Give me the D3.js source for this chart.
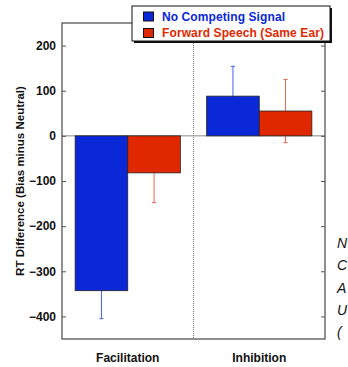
<!DOCTYPE html>
<html><head><meta charset="utf-8">
<script src="https://cdn.jsdelivr.net/npm/d3@7"></script>
<style>body{margin:0;background:#fff;overflow:hidden}svg{display:block}</style>
</head><body>
<script>
const categories = ["Facilitation", "Inhibition"];
const seriesNames = ["No Competing Signal", "Forward Speech (Same Ear)"];
const noCompeting = [-343, 88];
const noCompetingErr = [62, 66];
const forwardSpeech = [-82, 55];
const forwardSpeechErr = [66, 70];
const yTicks = [200, 100, 0, -100, -200, -300, -400];
const sideLetters = ["N", "C", "A", "U", "("];

const W = 348, H = 367;
const m = {left: 62, right: 325, top: 23, bottom: 339};
const svg = d3.select("body").append("svg").attr("width", W).attr("height", H);
const font = "'Liberation Sans', Arial, Helvetica, sans-serif";

const x = d3.scaleBand().domain(categories).range([m.left, m.right]).paddingInner(0).paddingOuter(0);
const x1 = d3.scaleBand().domain(seriesNames).range([0, x.bandwidth()]).paddingInner(0).paddingOuter(0.25);
const y = d3.scaleLinear().domain([-450, 250]).range([m.bottom, m.top]);

const colors = ["#0a28d8", "#e02800"];
const errColors = ["#4a60e8", "#f06050"];
const series = [
  {name: seriesNames[0], vals: noCompeting, errs: noCompetingErr},
  {name: seriesNames[1], vals: forwardSpeech, errs: forwardSpeechErr}
];

// zero line
svg.append("line").attr("x1", m.left).attr("x2", m.right).attr("y1", y(0)).attr("y2", y(0))
  .attr("stroke", "#888").attr("stroke-width", 1);
// divider
svg.append("line").attr("x1", x("Inhibition")).attr("x2", x("Inhibition"))
  .attr("y1", m.top).attr("y2", m.bottom).attr("stroke", "#777").attr("stroke-width", 1)
  .attr("stroke-dasharray", "1,1");

// error bars
series.forEach((s, si) => {
  categories.forEach((c, ci) => {
    const cx = x(c) + x1(s.name) + x1.bandwidth() / 2;
    const lo = s.vals[ci] - s.errs[ci], hi = s.vals[ci] + s.errs[ci];
    const g = svg.append("g").attr("stroke", errColors[si]).attr("stroke-width", 1);
    g.append("line").attr("x1", cx).attr("x2", cx).attr("y1", y(lo)).attr("y2", y(hi));
    g.append("line").attr("x1", cx - 2).attr("x2", cx + 2).attr("y1", y(lo)).attr("y2", y(lo));
    g.append("line").attr("x1", cx - 2).attr("x2", cx + 2).attr("y1", y(hi)).attr("y2", y(hi));
  });
});
// bars
series.forEach((s, si) => {
  svg.append("g").selectAll("rect").data(categories).join("rect")
    .attr("x", c => x(c) + x1(s.name))
    .attr("width", x1.bandwidth())
    .attr("y", (c, i) => y(Math.max(0, s.vals[i])))
    .attr("height", (c, i) => Math.abs(y(s.vals[i]) - y(0)))
    .attr("fill", colors[si]).attr("stroke", "#222").attr("stroke-width", 0.8);
});

// frame
svg.append("rect").attr("x", m.left).attr("y", m.top).attr("width", m.right - m.left)
  .attr("height", m.bottom - m.top).attr("fill", "none").attr("stroke", "#222").attr("stroke-width", 1);

// axes
const yAxisL = d3.axisLeft(y).tickValues(yTicks).tickSize(-4).tickPadding(6);
const gL = svg.append("g").attr("transform", `translate(${m.left},0)`).call(yAxisL);
gL.select(".domain").remove();
gL.selectAll("line").attr("stroke", "#555");
gL.selectAll("text").attr("font-family", font).attr("font-size", 12).attr("font-weight", "bold").attr("fill", "#111");
const yAxisR = d3.axisRight(y).tickValues(yTicks).tickSize(-4).tickFormat("");
const gR = svg.append("g").attr("transform", `translate(${m.right},0)`).call(yAxisR);
gR.select(".domain").remove();
gR.selectAll("line").attr("stroke", "#555");

const xAxis = d3.axisBottom(x).tickSize(0).tickPadding(14);
const gX = svg.append("g").attr("transform", `translate(0,${m.bottom})`).call(xAxis);
gX.select(".domain").remove();
gX.selectAll("text").attr("font-family", font).attr("font-size", 12).attr("font-weight", "bold").attr("fill", "#111");

// y title
svg.append("text").attr("transform", `translate(24,${(m.top + m.bottom) / 2}) rotate(-90)`)
  .attr("text-anchor", "middle").attr("font-family", font).attr("font-size", 11.5)
  .attr("font-weight", "bold").attr("fill", "#111").text("RT Difference (Bias minus Neutral)");

// legend
const legendWidths = [123, 162];
const lg = svg.append("g");
lg.append("rect").attr("x", 134).attr("y", 8).attr("width", 198).attr("height", 35).attr("fill", "#111");
lg.append("rect").attr("x", 132).attr("y", 6).attr("width", 198).attr("height", 35).attr("fill", "#fff")
  .attr("stroke", "#111").attr("stroke-width", 1);
series.forEach((s, i) => {
  const yy = 12 + i * 16.5;
  lg.append("rect").attr("x", 143.5).attr("y", yy).attr("width", 10).attr("height", 9)
    .attr("fill", colors[i]).attr("stroke", "#111").attr("stroke-width", 1);
  lg.append("text").attr("x", 162).attr("y", yy + 8.8).attr("font-family", font).attr("font-size", 12)
    .attr("font-weight", "bold").attr("fill", colors[i])
    .attr("textLength", legendWidths[i]).attr("lengthAdjust", "spacing").text(s.name);
});

// cut-off side text
svg.append("g").selectAll("text").data(sideLetters).join("text")
  .attr("x", 337).attr("y", (d, i) => 248 + i * 22.3)
  .attr("font-family", font).attr("font-size", 14).attr("font-style", "italic").attr("fill", "#111")
  .text(d => d);
</script>
</body></html>
